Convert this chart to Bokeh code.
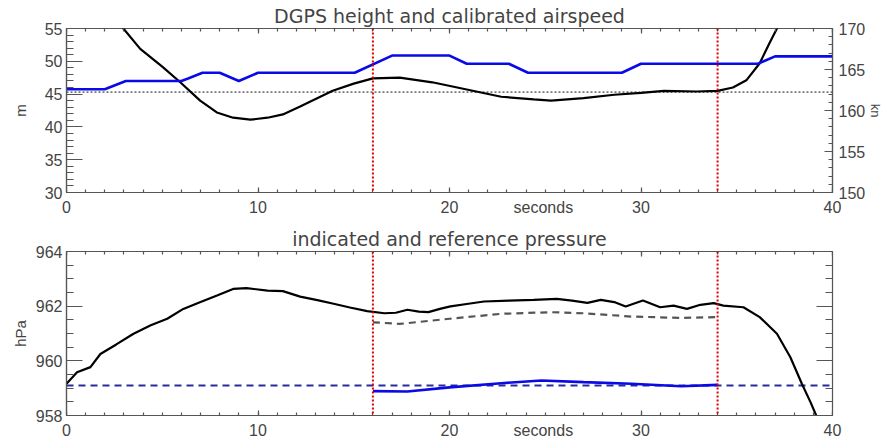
from bokeh.plotting import figure
from bokeh.layouts import column
from bokeh.models import (LinearAxis, Range1d, SingleIntervalTicker, FixedTicker, Span,
                          CustomJSTickFormatter)
from bokeh.embed import file_html
from bokeh.resources import INLINE

# ---------------- data ----------------
# top panel: DGPS height (m, left axis) and calibrated airspeed (kn, right axis)
height_t = [2.0, 2.97, 3.85, 5.0, 5.94, 6.98, 7.85, 8.7, 9.6, 10.5, 11.3, 12.2, 13.9,
            15.0, 16.0, 17.4, 19.1, 20.9, 22.7, 24.4, 25.3, 27.0, 28.6, 30.0, 31.2,
            32.9, 34.0, 34.8, 35.5, 36.2, 36.7, 37.1, 37.5]
height_m = [58.5, 55.0, 51.9, 49.2, 46.8, 44.0, 42.2, 41.4, 41.1, 41.4, 41.9, 43.1, 45.5,
            46.6, 47.4, 47.5, 46.8, 45.7, 44.6, 44.2, 44.0, 44.4, 44.9, 45.2, 45.5,
            45.4, 45.5, 46.0, 47.1, 49.7, 52.7, 55.0, 57.5]
airspeed_t = [0, 2.0, 3.1, 6.0, 6.35, 7.1, 8.0, 9.0, 10.0, 15.05, 17.0, 20.0, 20.9,
              23.1, 24.1, 29.0, 30.0, 36.1, 37.0, 40]
airspeed_kn = [162.6, 162.6, 163.6, 163.6, 163.9, 164.6, 164.6, 163.6, 164.6, 164.6,
               166.7, 166.7, 165.7, 165.7, 164.6, 164.6, 165.7, 165.7, 166.6, 166.6]
ref_height = 45.3

# bottom panel: indicated and reference pressure (hPa)
pind_t = [0, 0.55, 1.25, 1.77, 2.6, 3.5, 4.4, 5.26, 6.1, 7.0, 7.86, 8.7, 9.4, 10.5,
          11.3, 12.2, 13.1, 13.95, 14.8, 15.7, 16.6, 17.2, 17.8, 18.4, 18.9, 19.5,
          20.05, 20.9, 21.8, 23.1, 24.4, 25.6, 26.4, 27.2, 27.9, 28.6, 29.2, 30.1,
          31.0, 31.7, 32.4, 33.1, 33.8, 34.3, 35.35, 36.2, 37.1, 37.8, 38.4, 38.85,
          39.15, 39.3]
pind_hpa = [959.16, 959.58, 959.77, 960.25, 960.6, 960.99, 961.3, 961.54, 961.9, 962.15,
            962.39, 962.63, 962.66, 962.57, 962.55, 962.35, 962.22, 962.09, 961.95,
            961.82, 961.74, 961.76, 961.87, 961.8, 961.78, 961.9, 961.99, 962.08,
            962.17, 962.2, 962.23, 962.27, 962.2, 962.12, 962.23, 962.15, 961.99,
            962.21, 961.96, 962.02, 961.9, 962.05, 962.11, 962.02, 961.96, 961.6,
            960.99, 960.13, 959.16, 958.49, 958.0, 957.7]
pref_t = [16, 17.4, 20, 22.7, 25.3, 27.0, 29.5, 32.1, 34]
pref_hpa = [961.41, 961.35, 961.54, 961.72, 961.78, 961.74, 961.62, 961.57, 961.6]
pcorr_t = [16, 17.8, 20, 22.7, 24.8, 27, 29.5, 32.1, 34]
pcorr_hpa = [958.89, 958.88, 959.03, 959.18, 959.28, 959.22, 959.16, 959.07, 959.12]
ref_pressure = 959.1

markers_t = [16, 34]
x_ticks = [0, 10, 20, 30, 40]
x_minor = list(range(0, 41))
x_title = "seconds"
x_title_pos = 24.9
X_MIN, X_MAX = 0, 40
H_MIN, H_MAX = 30, 55
KN_MIN, KN_MAX = 150, 170
P_MIN, P_MAX = 958, 964

# ---------------- style ----------------
FONT = "Liberation Sans"
TFONT = "DejaVu Sans"
TXT = "#444444"
AX = "#555555"

def label_axis(ax, standoff, size="16px"):
    # axis that carries only the labels (ticks are drawn by the inner tick axes)
    ax.major_tick_in = 0
    ax.major_tick_out = 0
    ax.minor_tick_in = 0
    ax.minor_tick_out = 0
    ax.axis_line_color = AX
    ax.axis_line_width = 1.2
    ax.major_label_text_font = FONT
    ax.major_label_text_font_size = size
    ax.major_label_text_color = TXT
    ax.major_label_standoff = standoff
    ax.axis_label_text_font = FONT
    ax.axis_label_text_font_style = "normal"
    ax.axis_label_text_font_size = "15px"
    ax.axis_label_text_color = TXT

def tick_axis(ticker, maj, mnr, loc, **kw):
    # inward-pointing tick marks at a frame edge, no labels
    ax = LinearAxis(ticker=ticker, formatter=CustomJSTickFormatter(code="return ''"),
                    fixed_location=loc, **kw)
    ax.major_tick_in = maj
    ax.major_tick_out = 0
    ax.minor_tick_in = mnr
    ax.minor_tick_out = 0
    ax.axis_line_color = None
    ax.major_tick_line_color = AX
    ax.minor_tick_line_color = AX
    ax.major_tick_line_width = 1.2
    ax.minor_tick_line_width = 1.2
    ax.major_label_text_font_size = "1px"
    return ax

def base(height, yr, title, top, bottom):
    p = figure(width=887, height=height, x_range=Range1d(X_MIN, X_MAX),
               y_range=Range1d(*yr), output_backend="svg", toolbar_location=None,
               min_border_left=66, min_border_right=55, min_border_top=top,
               min_border_bottom=bottom)
    p.xgrid.visible = False
    p.ygrid.visible = False
    p.outline_line_color = AX
    p.outline_line_width = 1.2
    p.title.text = title
    p.title.align = "center"
    p.title.text_font = TFONT
    p.title.text_font_size = "19px"
    p.title.text_font_style = "normal"
    p.title.text_color = TXT
    p.title.standoff = 4
    # x axis labels: numbers plus the axis title on the same row
    p.xaxis.ticker = FixedTicker(ticks=x_ticks + [x_title_pos], minor_ticks=x_minor)
    p.xaxis.major_label_overrides = {x_title_pos: x_title}
    label_axis(p.xaxis[0], 6)
    # inward x tick marks on bottom and top edges
    p.add_layout(tick_axis(SingleIntervalTicker(interval=10, num_minor_ticks=10),
                           5, 3, yr[0]), "below")
    p.add_layout(tick_axis(SingleIntervalTicker(interval=10, num_minor_ticks=10),
                           5, 3, yr[1]), "above")
    return p

# ---------------- top panel ----------------
p1 = base(220, (H_MIN, H_MAX), "DGPS height and calibrated airspeed", 28, 28)
p1.extra_y_ranges = {"kn": Range1d(KN_MIN, KN_MAX)}
p1.yaxis.ticker = SingleIntervalTicker(interval=5, num_minor_ticks=5)
p1.yaxis.axis_label = "m"
label_axis(p1.yaxis[0], 4)
p1.yaxis.axis_label_standoff = 13
p1.add_layout(tick_axis(SingleIntervalTicker(interval=5, num_minor_ticks=5),
                        16, 7, X_MIN), "left")
rax = LinearAxis(y_range_name="kn", axis_label="kn",
                 ticker=SingleIntervalTicker(interval=5, num_minor_ticks=5))
label_axis(rax, 6)
rax.axis_label_text_font_size = "13px"
rax.axis_label_standoff = 0
p1.add_layout(rax, "right")
p1.add_layout(tick_axis(SingleIntervalTicker(interval=5, num_minor_ticks=5),
                        8, 4, X_MAX, y_range_name="kn"), "right")

p1.add_layout(Span(location=ref_height, dimension="width", line_color="#777777",
                   line_dash="2 2", line_width=1.6, level="underlay"))
p1.line(height_t, height_m, line_color="black", line_width=2.2)
p1.line(airspeed_t, airspeed_kn, y_range_name="kn", line_color="#0a0ae6", line_width=2.6)
for t in markers_t:
    p1.add_layout(Span(location=t, dimension="height", line_color="#dd0000",
                       line_dash="2 2", line_width=2))

# ---------------- bottom panel ----------------
p2 = base(221, (P_MIN, P_MAX), "indicated and reference pressure", 31, 26)
p2.yaxis.ticker = SingleIntervalTicker(interval=2, num_minor_ticks=4)
p2.yaxis.axis_label = "hPa"
label_axis(p2.yaxis[0], 4)
p2.yaxis.axis_label_standoff = 4
p2.add_layout(tick_axis(SingleIntervalTicker(interval=2, num_minor_ticks=4),
                        16, 7, X_MIN), "left")
p2.add_layout(tick_axis(SingleIntervalTicker(interval=2, num_minor_ticks=4),
                        16, 7, X_MAX), "right")

p2.add_layout(Span(location=ref_pressure, dimension="width", line_color="#2a2aa0",
                   line_dash="7 5", line_width=2, level="underlay"))
p2.line(pind_t, pind_hpa, line_color="black", line_width=2.2)
p2.line(pref_t, pref_hpa, line_color="#555555", line_dash="7 5", line_width=2.2)
p2.line(pcorr_t, pcorr_hpa, line_color="#0a0ae6", line_width=2.6)
for t in markers_t:
    p2.add_layout(Span(location=t, dimension="height", line_color="#dd0000",
                       line_dash="2 2", line_width=2))

layout = column(p1, p2, spacing=0)
open("out.html", "w").write(file_html(layout, INLINE))
